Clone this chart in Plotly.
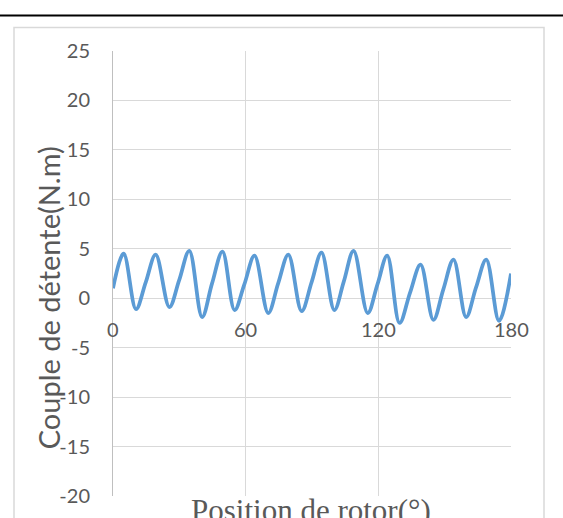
import plotly.graph_objects as go

# Data
position_deg = [0, 4.8, 10.4, 14.8, 19.3, 25.5, 29.9, 34.5, 40.3, 44.8, 49.5,
                55.0, 59.4, 64.0, 70.2, 74.7, 79.3, 85.3, 89.8, 94.3, 100.1,
                104.4, 108.8, 115.2, 119.6, 124.0, 129.6, 134.4, 139.1, 144.9,
                149.4, 154.0, 159.7, 164.2, 168.8, 174.6, 180]
couple_nm = [1.0, 4.5, -1.1, 1.6, 4.4, -0.9, 1.8, 4.8, -1.9, 1.5, 4.7,
             -1.2, 1.4, 4.3, -1.5, 1.5, 4.4, -1.3, 1.6, 4.6, -1.2,
             1.7, 4.8, -1.5, 1.4, 4.3, -2.5, 0.6, 3.4, -2.2,
             0.9, 3.9, -1.9, 1.1, 3.9, -2.3, 2.5]

x_ticks = [0, 60, 120, 180]
y_ticks = [-20, -15, -10, -5, 0, 5, 10, 15, 20, 25]
x_title = "Position de rotor(°)"
y_title = "Couple de détente(N.m)"

GRID = "#D9D9D9"
TXT = "#595959"
SANS = "Lato, Liberation Sans, sans-serif"

fig = go.Figure()
fig.add_trace(go.Scatter(
    x=position_deg, y=couple_nm, mode="lines",
    line=dict(color="#5B9BD5", width=3.75, shape="spline", smoothing=1.0),
    hoverinfo="skip", showlegend=False,
))

# Plot area in px: x 113..511, y 50.5..496
L, R, T, B = 113, 511, 50.5, 496
W, H = R - L, B - T
def px(x):
    return (x - L) / W
def py(y):
    return (B - y) / H

fig.update_layout(
    width=563, height=518,
    margin=dict(l=L, r=563 - R, t=T, b=518 - B),
    paper_bgcolor="white", plot_bgcolor="white",
    xaxis=dict(range=[0, 180], tickvals=x_ticks, showticklabels=False,
               showgrid=True, gridcolor=GRID, gridwidth=1,
               zeroline=False, showline=False, fixedrange=True),
    yaxis=dict(range=[-20, 25], tickvals=y_ticks,
               ticktext=[str(v) for v in y_ticks],
               tickfont=dict(family=SANS, size=20, color=TXT),
               ticks="", ticklabelstandoff=18,
               showgrid=True, gridcolor=GRID, gridwidth=1,
               zeroline=True, zerolinecolor=GRID, zerolinewidth=1,
               showline=True, linecolor="#BFBFBF", linewidth=1,
               fixedrange=True),
    shapes=[
        dict(type="rect", xref="paper", yref="paper",
             x0=px(14), x1=px(544), y0=py(540), y1=py(27),
             line=dict(color=GRID, width=1.5), fillcolor="rgba(0,0,0,0)",
             layer="below"),
        dict(type="line", xref="paper", yref="paper",
             x0=px(-5), x1=px(570), y0=py(15), y1=py(15),
             line=dict(color="black", width=2)),
    ],
)

annotations = []
for v in x_ticks:
    annotations.append(dict(x=v, y=0, xref="x", yref="y", text=str(v),
                            showarrow=False, xanchor="center", yanchor="top",
                            yshift=-17,
                            font=dict(family=SANS, size=20, color=TXT)))
annotations.append(dict(x=px(311.3), y=0, xref="paper", yref="paper",
                        text=x_title, showarrow=False, xanchor="center",
                        yanchor="top", yshift=5,
                        font=dict(family="Liberation Serif, Times New Roman, serif",
                                  size=31, color=TXT)))
annotations.append(dict(x=px(48), y=py(298), xref="paper", yref="paper",
                        text=y_title, showarrow=False, textangle=-90,
                        xanchor="center", yanchor="middle",
                        font=dict(family=SANS, size=29, color=TXT)))
fig.update_layout(annotations=annotations)

fig.write_html("out.html")
